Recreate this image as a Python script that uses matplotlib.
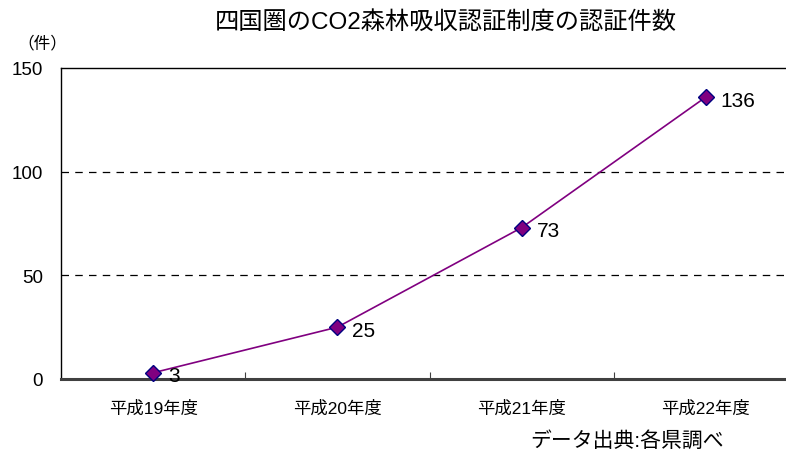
import matplotlib
matplotlib.use("Agg")
import matplotlib.pyplot as plt
from matplotlib.ticker import FixedLocator

plt.rcParams['font.family'] = ['Liberation Sans', 'Noto Sans CJK JP', 'DejaVu Sans']

categories = ["平成19年度", "平成20年度", "平成21年度", "平成22年度"]
counts = [3, 25, 73, 136]
y_ticks = [0, 50, 100, 150]

fig = plt.figure(figsize=(7.86, 4.52), dpi=100)
ax = fig.add_axes([61 / 786, 1 - 380 / 452, 737 / 786, 311 / 452])

x = list(range(len(categories)))
ax.plot(x, counts, color="#800080", linewidth=1.2, marker="D", markersize=8,
        markerfacecolor="#800080", markeredgecolor="#000080", markeredgewidth=1.0,
        zorder=5, clip_on=False)

for xi, v in zip(x, counts):
    ax.annotate(str(v), (xi, v), xytext=(15, -3), textcoords="offset pixels",
                ha="left", va="center", fontsize=15, color="black", zorder=6)

ax.set_xlim(-0.5, len(categories) - 0.5)
ax.set_ylim(0, 150)

# horizontal dashed gridlines
for yv in [50, 100]:
    ax.axhline(yv, color="black", linewidth=0.9, linestyle=(0, (6, 5)), zorder=1)

ax.set_xticks(x)
ax.set_xticklabels(categories, fontsize=12.5)
ax.xaxis.set_minor_locator(FixedLocator([0.5, 1.5, 2.5]))
ax.tick_params(axis="x", which="major", length=0, pad=15)
ax.tick_params(axis="x", which="minor", length=5, direction="in", width=0.8, color="#404040")

ax.set_yticks(y_ticks)
ax.set_yticklabels([str(t) for t in y_ticks], fontsize=13.5)
ax.tick_params(axis="y", length=0, pad=13)

ax.spines["right"].set_visible(False)
ax.spines["top"].set_color("black")
ax.spines["top"].set_linewidth(1.0)
ax.spines["left"].set_color("black")
ax.spines["left"].set_linewidth(1.0)
ax.spines["bottom"].set_color("#404040")
ax.spines["bottom"].set_linewidth(2.2)

fig.text(446 / 786, 1 - 22 / 452, "四国圏のCO2森林吸収認証制度の認証件数",
         ha="center", va="center", fontsize=17.5)
fig.text(42 / 786, 1 - 43 / 452, "（件）", ha="center", va="center", fontsize=12)
fig.text(627 / 786, 1 - 441 / 452, "データ出典:各県調べ", ha="center", va="center",
         fontsize=15)

fig.savefig("out.png", dpi=100)
